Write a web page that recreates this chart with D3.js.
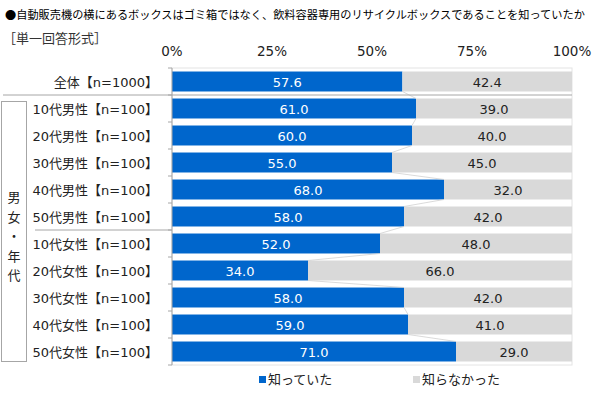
<!DOCTYPE html>
<html>
<head>
<meta charset="utf-8">
<script src="https://cdn.jsdelivr.net/npm/d3@7"></script>
<style>
  body { margin: 0; background: #fff; }
  svg { display: block; font-family: "DejaVu Sans", "Noto Sans CJK JP", sans-serif; }
</style>
</head>
<body>
<div id="chart"></div>
<script>
var title = "●自動販売機の横にあるボックスはゴミ箱ではなく、飲料容器専用のリサイクルボックスであることを知っていたか";
var subtitle = "［単一回答形式］";

var categories = ["全体【n=1000】",
    "10代男性【n=100】", "20代男性【n=100】", "30代男性【n=100】", "40代男性【n=100】", "50代男性【n=100】",
    "10代女性【n=100】", "20代女性【n=100】", "30代女性【n=100】", "40代女性【n=100】", "50代女性【n=100】"];
var knew = [57.6, 61.0, 60.0, 55.0, 68.0, 58.0, 52.0, 34.0, 58.0, 59.0, 71.0];
var didntKnow = [42.4, 39.0, 40.0, 45.0, 32.0, 42.0, 48.0, 66.0, 42.0, 41.0, 29.0];
var tickValues = [0, 25, 50, 75, 100];
var seriesNames = ["知っていた", "知らなかった"];
var groupLabel = "男女・年代";

var width = 600, height = 393;
var colors = ["#0066cc", "#d9d9d9"];

var svg = d3.select("#chart").append("svg")
    .attr("width", width)
    .attr("height", height);

var x = d3.scaleLinear().domain([0, 100]).range([172, 572]);
var y = d3.scaleBand().domain(categories).range([68, 365]).paddingInner(0.26).paddingOuter(0.13);
var rowStep = y.step();

// titles
svg.append("text")
    .attr("x", 5).attr("y", 19)
    .attr("font-family", "Noto Sans CJK JP")
    .attr("font-size", 11.2)
    .text(title);

svg.append("text")
    .attr("x", 3).attr("y", 43)
    .attr("font-family", "Noto Sans CJK JP")
    .attr("font-size", 13)
    .attr("fill", "#333")
    .text(subtitle);

// top axis labels
svg.selectAll(".tick-label")
    .data(tickValues)
    .enter().append("text")
    .attr("class", "tick-label")
    .attr("x", function (d) { return x(d); })
    .attr("y", 56)
    .attr("text-anchor", "middle")
    .attr("font-size", 13.5)
    .attr("fill", "#222")
    .text(function (d) { return d + "%"; });

// plot border
svg.append("rect")
    .attr("x", x(0)).attr("y", 68)
    .attr("width", x(100) - x(0)).attr("height", 297)
    .attr("fill", "none")
    .attr("stroke", "#e4e4e4")
    .attr("stroke-width", 1);

// stacked bars
var stackData = categories.map(function (c, i) {
    return { cat: c, segs: [[0, knew[i]], [knew[i], knew[i] + didntKnow[i]]] };
});

var rows = svg.selectAll(".row")
    .data(stackData)
    .enter().append("g")
    .attr("class", "row");

rows.selectAll("rect")
    .data(function (d) { return d.segs.map(function (s, j) { return { cat: d.cat, s: s, j: j }; }); })
    .enter().append("rect")
    .attr("x", function (d) { return x(d.s[0]); })
    .attr("y", function (d) { return y(d.cat); })
    .attr("width", function (d) { return x(d.s[1]) - x(d.s[0]); })
    .attr("height", y.bandwidth())
    .attr("fill", function (d) { return colors[d.j]; });

rows.selectAll(".val")
    .data(function (d) { return d.segs.map(function (s, j) { return { cat: d.cat, s: s, j: j }; }); })
    .enter().append("text")
    .attr("class", "val")
    .attr("x", function (d) { return (x(d.s[0]) + x(d.s[1])) / 2; })
    .attr("y", function (d) { return y(d.cat) + y.bandwidth() / 2 + 5; })
    .attr("text-anchor", "middle")
    .attr("font-size", 13)
    .attr("fill", function (d) { return d.j === 0 ? "#fff" : "#222"; })
    .text(function (d) { return (d.s[1] - d.s[0]).toFixed(1); });

// series lines between bar ends
var links = d3.pairs(categories);
svg.selectAll(".series-line")
    .data(links)
    .enter().append("line")
    .attr("class", "series-line")
    .attr("x1", function (d) { return x(knew[categories.indexOf(d[0])]); })
    .attr("y1", function (d) { return y(d[0]) + y.bandwidth(); })
    .attr("x2", function (d) { return x(knew[categories.indexOf(d[1])]); })
    .attr("y2", function (d) { return y(d[1]); })
    .attr("stroke", "#d0d0d0")
    .attr("stroke-width", 0.8);

// category labels
svg.selectAll(".cat")
    .data(categories)
    .enter().append("text")
    .attr("class", "cat")
    .attr("x", 158)
    .attr("y", function (d) { return y(d) + y.bandwidth() / 2 + 5; })
    .attr("text-anchor", "end")
    .attr("font-size", 13)
    .attr("fill", "#222")
    .text(function (d) { return d; });

// left axis line with ticks at row boundaries
svg.append("line")
    .attr("x1", x(0)).attr("x2", x(0))
    .attr("y1", 68).attr("y2", 365)
    .attr("stroke", "#a6a6a6");

var bounds = d3.range(categories.length + 1).map(function (i) { return 68 + i * rowStep; });
svg.selectAll(".ytick")
    .data(bounds)
    .enter().append("line")
    .attr("class", "ytick")
    .attr("x1", x(0) - 4).attr("x2", x(0))
    .attr("y1", function (d) { return d; })
    .attr("y2", function (d) { return d; })
    .attr("stroke", "#a6a6a6");

// separators
svg.append("line")
    .attr("x1", 3).attr("x2", x(100))
    .attr("y1", bounds[1]).attr("y2", bounds[1])
    .attr("stroke", "#a6a6a6");

svg.append("line")
    .attr("x1", 35).attr("x2", x(0))
    .attr("y1", bounds[6]).attr("y2", bounds[6])
    .attr("stroke", "#a6a6a6");

// group box
svg.append("rect")
    .attr("x", 1.5).attr("y", 101.5)
    .attr("width", 25).attr("height", 260)
    .attr("fill", "none")
    .attr("stroke", "#a6a6a6");

svg.selectAll(".grp")
    .data(groupLabel.split(""))
    .enter().append("text")
    .attr("class", "grp")
    .attr("x", 14)
    .attr("y", function (d, i) { return 202 + i * 19.5; })
    .attr("text-anchor", "middle")
    .attr("font-family", "Noto Sans CJK JP")
    .attr("font-size", 13)
    .attr("fill", "#222")
    .text(function (d) { return d; });

// legend
var legendX = [259, 413];
var legend = svg.selectAll(".legend")
    .data(seriesNames)
    .enter().append("g")
    .attr("class", "legend")
    .attr("transform", function (d, i) { return "translate(" + legendX[i] + ",376)"; });

legend.append("rect")
    .attr("width", 7).attr("height", 7)
    .attr("fill", function (d, i) { return colors[i]; });

legend.append("text")
    .attr("x", 9).attr("y", 8)
    .attr("font-family", "Noto Sans CJK JP")
    .attr("font-size", 13)
    .attr("fill", "#222")
    .text(function (d) { return d; });
</script>
</body>
</html>
